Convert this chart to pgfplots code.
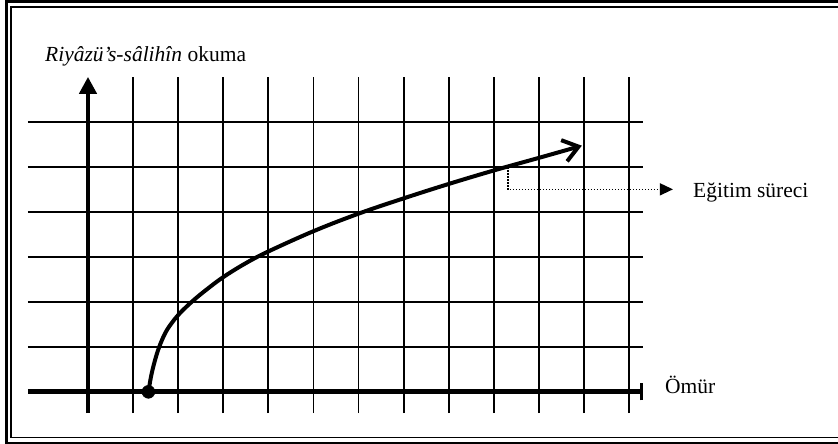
\documentclass[border=0pt]{standalone}
\usepackage{fontspec}
\setmainfont{Liberation Serif}
\usepackage{pgfplots}
\pgfplotsset{compat=1.18}
\usetikzlibrary{arrows.meta}
\begin{document}
\begin{tikzpicture}
\useasboundingbox (-28bp,-31bp) rectangle (810bp,413bp);
\draw[line width=3bp] (-21.5bp,-30bp) rectangle (814bp,411bp);
\draw[line width=1.3bp] (-17bp,-24.5bp) rectangle (812bp,406bp);
\begin{axis}[
 x=45.1bp, y=45bp,
 xmin=-1.33, xmax=12.31, ymin=-0.47, ymax=7.0,
 anchor=south west, at={(0,0)},
 axis line style={draw=none},
 xtick={1,...,12}, ytick={1,...,6},
 xticklabels={}, yticklabels={},
 tick style={draw=none},
 major tick length=0pt,
 grid=major,
 grid style={black, line width=1.8bp},
 clip=false,
]
% x axis
\addplot[black, line width=5bp] coordinates {(-1.33,0) (12.31,0)};
\addplot[black, line width=3bp] coordinates {(12.27,-0.19) (12.27,0.19)};
% y axis
\addplot[black, line width=4.5bp, -{Triangle[length=17bp,width=17bp]}] coordinates {(0,-0.47) (0,7.0)};
% curve
\addplot[black, line width=4bp, smooth, tension=0.6, -{Straight Barb[length=15bp,width=22bp]}] coordinates {
(1.34,0.00) (1.40,0.35) (1.48,0.68) (1.58,1.00) (1.72,1.32) (1.88,1.56)
(2.05,1.76) (2.30,2.00) (2.60,2.25) (3.00,2.55) (3.50,2.86) (4.00,3.12)
(5.00,3.57) (6.00,3.96) (7.00,4.30) (8.00,4.62) (9.00,4.92) (10.00,5.20)
(10.95,5.47)};
% start dot
\addplot[only marks, mark=*, mark size=6.5bp, black] coordinates {(1.34,0)};
% dotted pointer
\addplot[black, line width=1.3bp, dash pattern=on 1.3bp off 1.7bp, -{Triangle[length=13bp,width=12bp]}] coordinates {(9.31,4.99) (9.31,4.50) (12.97,4.50)};
\end{axis}
\begin{scope}[every node/.style={inner sep=0pt, anchor=base west, font=\fontsize{21.5bp}{25bp}\selectfont}]
\node at (17bp,351bp) {\textit{Riyâzü’s-sâlihîn} okuma};
\node at (665bp,215bp) {Eğitim süreci};
\node at (637bp,19.7bp) {Ömür};
\end{scope}
\end{tikzpicture}
\end{document}
